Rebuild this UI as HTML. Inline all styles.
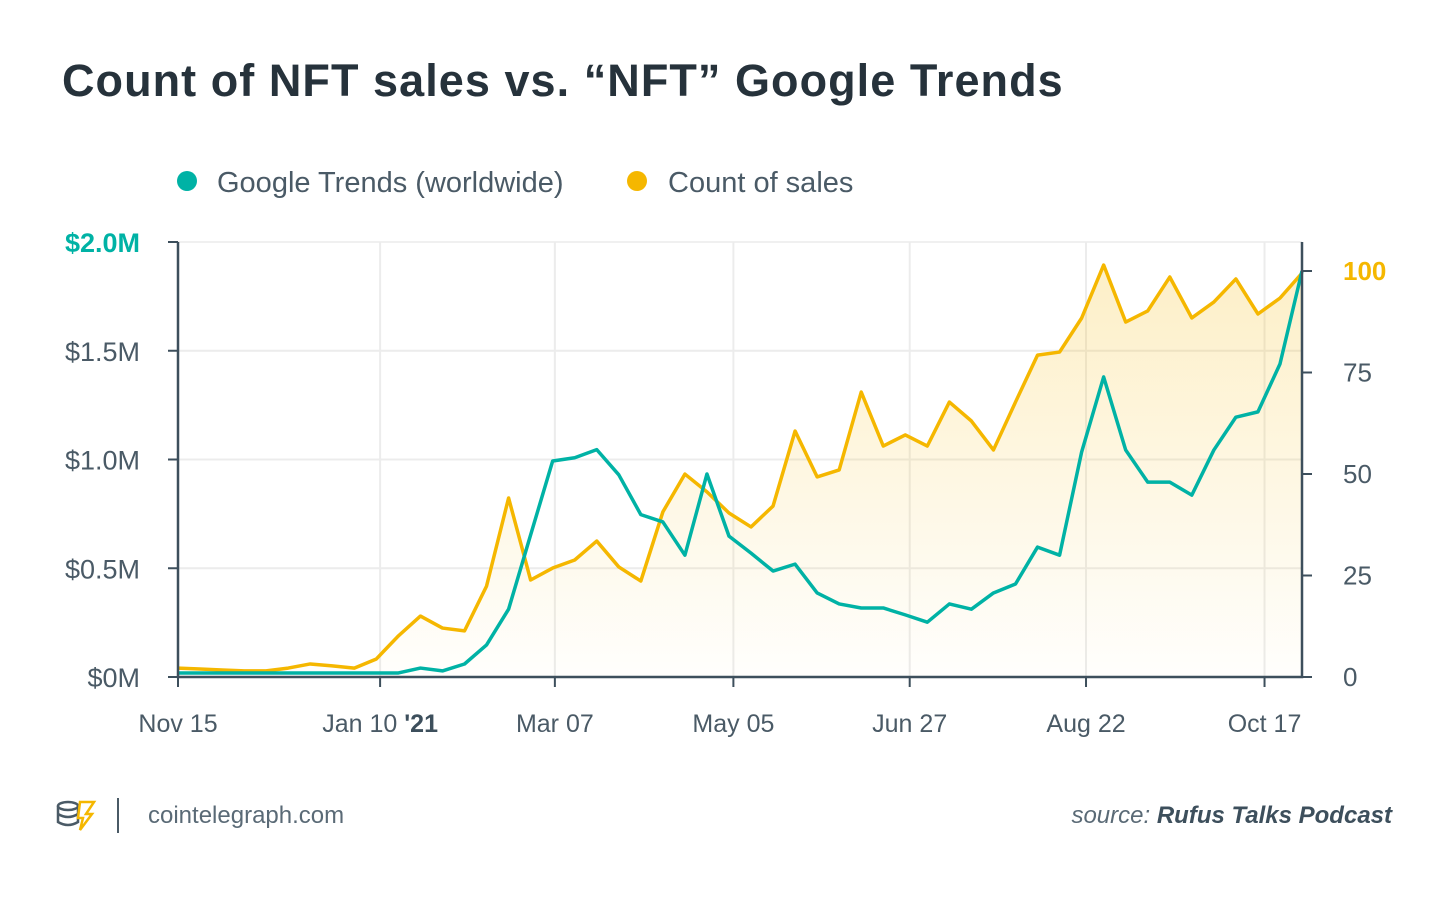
<!DOCTYPE html>
<html><head><meta charset="utf-8"><style>
body{margin:0;background:#fff;width:1450px;height:895px;overflow:hidden;font-family:"Liberation Sans","DejaVu Sans",sans-serif}
</style></head><body>
<svg width="1450" height="895" viewBox="0 0 1450 895">
<defs><linearGradient id="gf" x1="0" y1="0" x2="0" y2="1"><stop offset="0" stop-color="#f5b700" stop-opacity="0.22"/><stop offset="1" stop-color="#f5b700" stop-opacity="0.01"/></linearGradient></defs>
<text x="62" y="96" font-size="45" font-weight="bold" fill="#26323b" letter-spacing="1.05">Count of NFT sales vs. “NFT” Google Trends</text>
<g>
<circle cx="187" cy="181" r="10" fill="#00b2a5"/>
<text x="217" y="192" font-size="29" fill="#4a5a66">Google Trends (worldwide)</text>
<circle cx="637" cy="181" r="10" fill="#f5b700"/>
<text x="668" y="192" font-size="29" fill="#4a5a66">Count of sales</text>
</g>
<g id="grid"></g><g id="marks"></g><g id="axes"></g>
<g>
<g fill="none" stroke="#4a5a66" stroke-width="2.5">
<ellipse cx="68" cy="806" rx="10" ry="4"/><path d="M58 806v16q10 6 20 0v-16M58 814q10 6 20 0"/><path d="M80 802h14l-8 12h6l-12 16 3-12h-5z" stroke="#f5b700"/></g>
<line x1="118" y1="798" x2="118" y2="833" stroke="#4a5a66" stroke-width="2"/>
<text x="148" y="823" font-size="24" fill="#5a6a76">cointelegraph.com</text>
<text x="1392" y="823" font-size="24" text-anchor="end" fill="#5a6a76" font-style="italic">source:  <tspan font-weight="bold" fill="#3d4f5c">Rufus Talks Podcast</tspan></text>
</g>
</svg>
<script>
const sales=[0.041,0.037,0.032,0.028,0.028,0.041,0.060,0.051,0.041,0.083,0.189,0.28,0.225,0.212,0.418,0.823,0.446,0.501,0.538,0.625,0.506,0.441,0.759,0.933,0.851,0.754,0.69,0.786,1.131,0.92,0.952,1.31,1.062,1.113,1.062,1.264,1.177,1.044,1.264,1.48,1.494,1.65,1.894,1.632,1.683,1.839,1.651,1.724,1.83,1.669,1.742,1.857];
const trends=[1,1,1,1,1,1,1,1,1,1,1,2.2,1.5,3.2,7.9,16.7,35,53.2,54,56,49.8,40,38.2,30,50,34.7,30.5,26.1,27.8,20.7,18,17,17,15.3,13.5,18,16.7,20.7,22.9,32,30,55.4,73.9,55.9,48,48,44.8,55.9,64,65.3,77.1,100];
const xTickLabels=["Nov 15","Jan 10 '21","Mar 07","May 05","Jun 27","Aug 22","Oct 17"];
const xTickWeeks=[0,9.17,17.1,25.2,33.2,41.2,49.3];
const leftTicks=[0,0.5,1.0,1.5,2.0];
const leftTickLabels=["$0M","$0.5M","$1.0M","$1.5M","$2.0M"];
const rightTicks=[0,25,50,75,100];
const X0=178,X1=1302,Y0=677,YT=242;
const NS="http://www.w3.org/2000/svg";
const xs=i=>X0+(X1-X0)*i/(sales.length-1);
const yl=v=>Y0-(Y0-YT)*v/2.0;
const yr=v=>Y0-v*4.06;
function mk(tag,attrs,parent){const e=document.createElementNS(NS,tag);for(const k in attrs)e.setAttribute(k,attrs[k]);parent.appendChild(e);return e;}
const grid=document.getElementById('grid'),marks=document.getElementById('marks'),axes=document.getElementById('axes');
leftTicks.forEach((t,i)=>{
  if(t>0&&t<2){const g=mk('line',{x1:X0,x2:X1,y1:yl(t),y2:yl(t),stroke:'#ececec','stroke-width':2},grid);
  
  }
  const tk=mk('line',{x1:X0-10,x2:X0,y1:yl(t),y2:yl(t),stroke:'#3d4f5c','stroke-width':2},axes);
  
  
  const top=t===2;
  const tx=mk('text',{x:140,y:yl(t)+10,'font-size':27,'text-anchor':'end',fill:top?'#00b2a5':'#4a5a66','font-weight':top?'bold':'normal'},axes);
  tx.textContent=leftTickLabels[i];
  
  
});
mk('line',{x1:X0,x2:X1,y1:YT,y2:YT,stroke:'#f0f0f0','stroke-width':2},grid);
rightTicks.forEach(t=>{
  const tk=mk('line',{x1:X1,x2:X1+10,y1:yr(t),y2:yr(t),stroke:'#3d4f5c','stroke-width':2},axes);
  
  
  const top=t===100;
  const tx=mk('text',{x:1343,y:yr(t)+9,'font-size':26,fill:top?'#f5b700':'#4a5a66','font-weight':top?'bold':'normal'},axes);
  tx.textContent=String(t);
  
  
});
xTickWeeks.forEach((w,i)=>{
  const x=xs(w);
  if(i>0){const g=mk('line',{x1:x,x2:x,y1:YT,y2:Y0,stroke:'#ececec','stroke-width':2},grid);
  
  }
  const tk=mk('line',{x1:x,x2:x,y1:Y0,y2:Y0+10,stroke:'#3d4f5c','stroke-width':2},axes);
  
  
  const tx=mk('text',{x:x,y:732,'font-size':25,'text-anchor':'middle',fill:'#4a5a66'},axes);
  const lab=xTickLabels[i];
  if(lab.indexOf("'")>=0){const p=lab.split(" '");tx.textContent=p[0]+" ";const ts=mk('tspan',{'font-weight':'bold',fill:'#3d4f5c'},tx);ts.textContent="'"+p[1];}
  else tx.textContent=lab;
  
  
});
let d='M'+xs(0)+','+Y0;sales.forEach((v,i)=>d+='L'+xs(i)+','+yl(v));d+='L'+xs(sales.length-1)+','+Y0+'Z';
const area=mk('path',{d:d,fill:'url(#gf)'},marks);


const sl=mk('polyline',{points:sales.map((v,i)=>xs(i)+','+yl(v)).join(' '),fill:'none',stroke:'#f5b700','stroke-width':3.5,'stroke-linejoin':'round'},marks);


const tl=mk('polyline',{points:trends.map((v,i)=>xs(i)+','+yr(v)).join(' '),fill:'none',stroke:'#00b2a5','stroke-width':3.5,'stroke-linejoin':'round'},marks);


const ax=mk('path',{d:`M${X0},${YT}V${Y0}H${X1}V${YT}`,fill:'none',stroke:'#3d4f5c','stroke-width':2.5},axes);


</script>
</body></html>
